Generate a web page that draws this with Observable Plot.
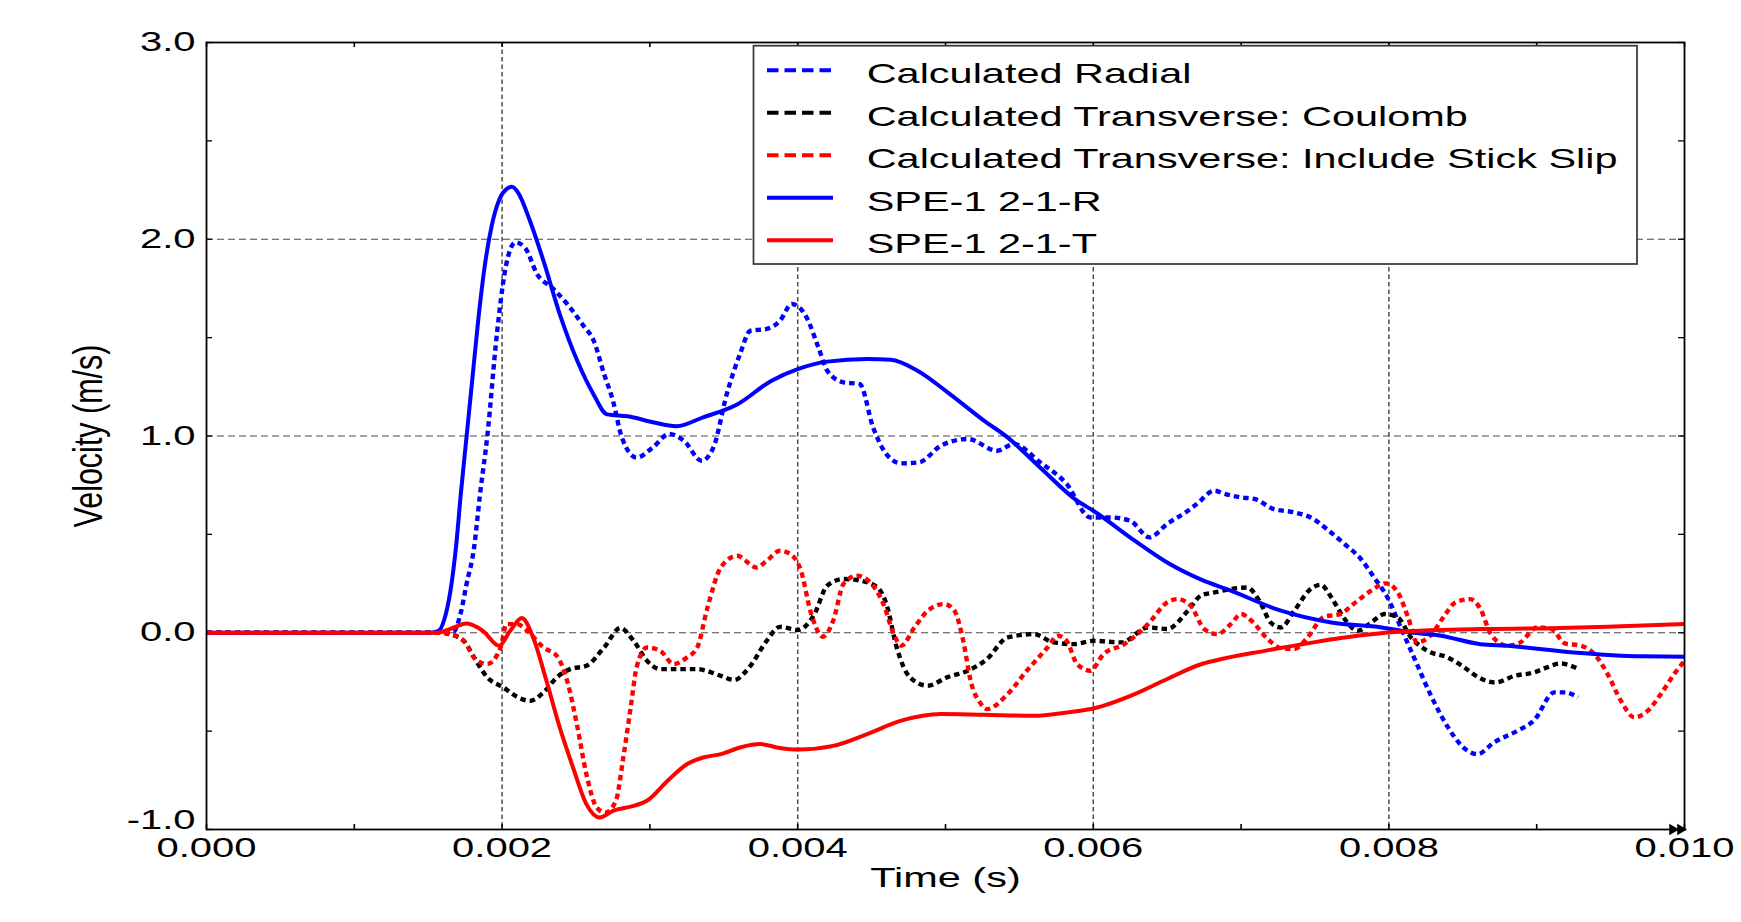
<!DOCTYPE html>
<html>
<head>
<meta charset="utf-8">
<script src="https://cdn.jsdelivr.net/npm/d3@7"></script>
<script src="https://cdn.jsdelivr.net/npm/@observablehq/plot@0.6"></script>
<style>
  html, body { margin: 0; padding: 0; background: #fff; }
  #chart { width: 1741px; height: 922px; }
</style>
</head>
<body>
<div id="chart"></div>
<script>
// ---- DATA (time in milliseconds, velocity in m/s) ----
const seriesNames = [
  "Calculated Radial",
  "Calculated Transverse: Coulomb",
  "Calculated Transverse: Include Stick Slip",
  "SPE-1 2-1-R",
  "SPE-1 2-1-T"
];

const calcRadial = [
  [0,0],[1.6,0],[1.67,0.005],[1.72,0.1],[1.76,0.25],[1.81,0.43],[1.85,0.7],[1.9,1.0],[1.965,1.52],[2.02,1.84],
  [2.09,1.984],[2.156,1.956],[2.236,1.824],[2.348,1.747],[2.44,1.671],[2.55,1.561],[2.62,1.484],[2.69,1.315],[2.75,1.179],[2.81,0.993],
  [2.91,0.89],[3.02,0.942],[3.13,1.01],[3.23,0.976],[3.35,0.874],[3.43,0.942],[3.52,1.213],[3.61,1.417],[3.68,1.535],[3.79,1.544],
  [3.88,1.586],[3.96,1.671],[4.06,1.603],[4.14,1.45],[4.2,1.332],[4.31,1.273],[4.42,1.264],[4.51,1.044],[4.6,0.908],[4.7,0.861],
  [4.82,0.866],[4.97,0.951],[5.15,0.985],[5.35,0.925],[5.46,0.959],[5.64,0.866],[5.82,0.756],[5.98,0.586],[6.12,0.586],[6.25,0.569],
  [6.38,0.485],[6.5,0.553],[6.64,0.62],[6.7,0.654],[6.82,0.722],[6.88,0.708],[7.0,0.688],[7.09,0.68],[7.22,0.629],[7.36,0.612],
  [7.49,0.578],[7.58,0.527],[7.7,0.451],[7.81,0.375],[7.9,0.281],[7.99,0.18],[8.08,0.027],[8.17,-0.126],[8.28,-0.312],[8.4,-0.481],
  [8.5,-0.58],[8.6,-0.617],[8.71,-0.558],[8.87,-0.498],[8.98,-0.447],[9.12,-0.303],[9.19,-0.303],[9.28,-0.329]
];

const calcCoulomb = [
  [0,0],[1.6,0],[1.63,-0.005],[1.74,-0.041],[1.81,-0.125],[1.9,-0.227],[2.01,-0.278],[2.1,-0.325],[2.19,-0.346],[2.28,-0.303],
  [2.37,-0.227],[2.46,-0.185],[2.57,-0.168],[2.69,-0.075],[2.8,0.024],[2.89,-0.041],[2.98,-0.142],[3.07,-0.185],[3.21,-0.185],[3.32,-0.185],
  [3.48,-0.219],[3.57,-0.24],[3.68,-0.168],[3.79,-0.041],[3.88,0.03],[4.0,0.014],[4.11,0.09],[4.2,0.239],[4.31,0.273],[4.43,0.264],
  [4.54,0.23],[4.6,0.146],[4.67,-0.075],[4.76,-0.227],[4.88,-0.269],[5.01,-0.227],[5.15,-0.193],[5.28,-0.134],[5.42,-0.024],[5.6,-0.007],
  [5.73,-0.049],[5.87,-0.058],[6.0,-0.041],[6.19,-0.049],[6.37,0.027],[6.5,0.019],[6.64,0.112],[6.73,0.19],[6.82,0.205],[6.93,0.222],
  [7.04,0.23],[7.13,0.154],[7.2,0.052],[7.27,0.027],[7.36,0.112],[7.47,0.222],[7.54,0.244],[7.61,0.18],[7.7,0.07],[7.79,0.01],
  [7.88,0.052],[7.97,0.095],[8.06,0.078],[8.15,-0.024],[8.26,-0.092],[8.4,-0.126],[8.51,-0.176],[8.6,-0.224],[8.72,-0.253],[8.85,-0.219],
  [8.98,-0.202],[9.07,-0.176],[9.16,-0.156],[9.27,-0.18]
];

const calcStickSlip = [
  [0,0],[1.6,0],[1.65,-0.005],[1.74,-0.041],[1.83,-0.142],[1.9,-0.159],[1.99,-0.075],[2.03,0.044],[2.1,0.044],[2.17,0.01],
  [2.28,-0.075],[2.37,-0.117],[2.44,-0.244],[2.51,-0.481],[2.57,-0.718],[2.64,-0.888],[2.7,-0.914],[2.77,-0.854],[2.82,-0.634],[2.87,-0.38],
  [2.91,-0.176],[2.98,-0.075],[3.07,-0.092],[3.16,-0.159],[3.25,-0.126],[3.32,-0.075],[3.39,0.129],[3.48,0.332],[3.59,0.391],[3.72,0.332],
  [3.79,0.366],[3.88,0.417],[3.95,0.4],[4.02,0.32],[4.09,0.1],[4.17,-0.02],[4.24,0.061],[4.31,0.248],[4.4,0.29],[4.49,0.256],
  [4.58,0.146],[4.65,-0.007],[4.7,-0.066],[4.79,0.027],[4.88,0.112],[4.99,0.146],[5.06,0.112],[5.12,-0.041],[5.17,-0.244],[5.24,-0.362],
  [5.28,-0.388],[5.42,-0.312],[5.55,-0.193],[5.69,-0.075],[5.76,-0.015],[5.82,-0.041],[5.89,-0.159],[5.98,-0.193],[6.07,-0.108],[6.21,-0.058],
  [6.37,0.044],[6.5,0.154],[6.57,0.171],[6.66,0.137],[6.75,0.019],[6.84,-0.007],[6.93,0.044],[7.0,0.095],[7.07,0.061],[7.18,-0.032],
  [7.27,-0.078],[7.36,-0.083],[7.45,-0.024],[7.56,0.081],[7.67,0.095],[7.76,0.146],[7.88,0.214],[7.98,0.251],[8.06,0.205],[8.13,0.078],
  [8.19,-0.049],[8.28,-0.015],[8.37,0.08],[8.45,0.154],[8.55,0.171],[8.62,0.12],[8.69,-0.007],[8.8,-0.066],[8.89,-0.049],[9.0,0.027],
  [9.1,0.019],[9.19,-0.054],[9.3,-0.066],[9.39,-0.108],[9.48,-0.21],[9.57,-0.346],[9.66,-0.43],[9.75,-0.397],[9.84,-0.312],[9.93,-0.21],
  [10.0,-0.142]
];

const spe1R = [
  [0,0],[1.5,0],[1.57,0.01],[1.61,0.07],[1.65,0.21],[1.69,0.45],[1.72,0.7],[1.76,1.0],[1.8,1.3],[1.84,1.6],
  [1.88,1.85],[1.93,2.07],[1.98,2.2],[2.03,2.255],[2.066,2.267],[2.11,2.235],[2.19,2.09],[2.28,1.89],[2.39,1.62],[2.51,1.38],
  [2.62,1.21],[2.71,1.11],[2.85,1.1],[3.02,1.07],[3.18,1.05],[3.36,1.095],[3.59,1.16],[3.82,1.28],[4.0,1.34],[4.2,1.378],
  [4.47,1.391],[4.63,1.387],[4.81,1.332],[5.03,1.213],[5.26,1.078],[5.42,0.993],[5.64,0.84],[5.89,0.671],[6.0,0.62],[6.28,0.468],
  [6.5,0.357],[6.73,0.27],[6.93,0.214],[7.27,0.112],[7.61,0.052],[7.95,0.027],[8.17,0.0],[8.35,-0.015],[8.62,-0.058],[8.8,-0.066],
  [9.25,-0.1],[9.71,-0.12],[10.0,-0.122]
];

const spe1T = [
  [0,0],[1.56,0],[1.65,0.02],[1.76,0.047],[1.87,0.01],[1.98,-0.066],[2.055,0.01],[2.134,0.075],[2.21,-0.024],[2.3,-0.244],
  [2.39,-0.481],[2.48,-0.685],[2.57,-0.871],[2.66,-0.939],[2.75,-0.905],[2.89,-0.88],[2.98,-0.854],[3.12,-0.752],[3.25,-0.668],[3.36,-0.634],
  [3.48,-0.617],[3.61,-0.583],[3.75,-0.566],[3.88,-0.586],[4.0,-0.594],[4.24,-0.575],[4.47,-0.515],[4.7,-0.447],[4.97,-0.413],[5.26,-0.417],
  [5.6,-0.422],[5.82,-0.405],[6.0,-0.385],[6.28,-0.312],[6.5,-0.235],[6.73,-0.16],[6.82,-0.142],[7.16,-0.092],[7.49,-0.049],[7.83,-0.012],
  [8.06,0.005],[8.62,0.019],[9.03,0.022],[9.48,0.03],[10.0,0.044]
];

const seriesData = [calcRadial, calcCoulomb, calcStickSlip, spe1R, spe1T];
const seriesColors = ["#0000ff", "#000000", "#ff0000", "#0000ff", "#ff0000"];
const seriesDotted = [true, true, true, false, false];

const xDomain = [0, 0.010];
const yDomain = [-1, 3];
const xTickLabels = [0, 0.002, 0.004, 0.006, 0.008, 0.010];
const xMinorTicks = [0, 0.001, 0.002, 0.003, 0.004, 0.005, 0.006, 0.007, 0.008, 0.009, 0.010];
const yTickLabels = [-1, 0, 1, 2, 3];
const yMinorTicks = [-1, -0.5, 0, 0.5, 1, 1.5, 2, 2.5, 3];
const xGridValues = [0.002, 0.004, 0.006, 0.008];
const yGridValues = [0, 1, 2];
const xLabel = "Time (s)";
const yLabel = "Velocity (m/s)";

// ---- LAYOUT ----
const W = 1741, H = 922;
const mL = 206, mR = 57, mT = 42, mB = 93;
const innerW = W - mL - mR, innerH = H - mT - mB;
const FONT = "'Liberation Sans', Arial, Helvetica, sans-serif";
const SX = 1.48; // horizontal stretch of the original raster text

const lineMarks = seriesData.map((pts, i) =>
  Plot.line(pts, {
    x: d => d[0] / 1000,
    y: d => d[1],
    stroke: seriesColors[i],
    strokeWidth: seriesDotted[i] ? 4.4 : 4,
    strokeDasharray: seriesDotted[i] ? "5.5,4" : null,
    strokeLinecap: "butt",
    curve: "monotone-x"
  })
);

const arrowData = [{x: xDomain[1], y: yDomain[0]}];

const svg = Plot.plot({
  width: W,
  height: H,
  marginLeft: mL,
  marginRight: mR,
  marginTop: mT,
  marginBottom: mB,
  style: {fontFamily: FONT, fontSize: "27px", color: "#000", background: "#fff", overflow: "visible"},
  x: {domain: xDomain},
  y: {domain: yDomain},
  marks: [
    Plot.gridX(xGridValues, {stroke: "#4a4a4a", strokeOpacity: 1, strokeWidth: 1.5, strokeDasharray: "4.5,3"}),
    Plot.gridY(yGridValues, {stroke: "#4a4a4a", strokeOpacity: 1, strokeWidth: 1.2, strokeDasharray: "7,4"}),
    Plot.tickX(xMinorTicks, {x: d => d, insetTop: innerH - 5, stroke: "#000", strokeWidth: 1.6}),
    Plot.tickX(xMinorTicks, {x: d => d, insetBottom: innerH - 5, stroke: "#000", strokeWidth: 1.6}),
    Plot.tickY(yMinorTicks, {y: d => d, insetRight: innerW - 6, stroke: "#000", strokeWidth: 1.3}),
    Plot.tickY(yMinorTicks, {y: d => d, insetLeft: innerW - 6, stroke: "#000", strokeWidth: 1.3}),
    ...lineMarks,
    Plot.frame({stroke: "#000", strokeWidth: 1.8}),
    Plot.axisX(xTickLabels, {tickSize: 0, tickPadding: 8, tickFormat: d => d.toFixed(3), fontSize: 27, label: null}),
    Plot.axisY(yTickLabels, {tickSize: 0, tickPadding: 11, tickFormat: d => d.toFixed(1), fontSize: 27, label: null}),
    Plot.text([xLabel], {frameAnchor: "bottom", dy: 38, lineAnchor: "top", textAnchor: "middle", fontSize: 28, text: d => d}),
    Plot.text([yLabel], {frameAnchor: "left", rotate: -90, dx: -118, textAnchor: "middle", fontSize: 30.5, text: d => d}),
    Plot.dot(arrowData, {x: "x", y: "y", symbol: "triangle", r: 4.2, rotate: 90, fill: "#000", stroke: "none", dx: -4}),
    Plot.dot(arrowData, {x: "x", y: "y", symbol: "triangle", r: 4.2, rotate: 90, fill: "#000", stroke: "none", dx: -12})
  ]
});

document.getElementById("chart").append(svg);

// Stretch text horizontally to match the wide lettering of the original.
d3.select(svg).selectAll("text").each(function () {
  const t = this.getAttribute("transform") || "";
  const s = this.textContent;
  if (s === yLabel) {
    this.setAttribute("transform", t + " scale(1,1.35)");
  } else if (s === "-1.0") {
    // the lowest y label sits just above the axis corner in the original
    this.setAttribute("transform", "translate(0,-9) " + t + ` scale(${SX},1)`);
  } else {
    this.setAttribute("transform", t + ` scale(${SX},1)`);
  }
});

// ---- LEGEND (inside plot area, top right) ----
const lg = d3.select(svg).append("g").attr("class", "legend");
lg.append("rect")
  .attr("x", 753.5).attr("y", 45.7)
  .attr("width", 883.5).attr("height", 218.3)
  .attr("fill", "#fff").attr("stroke", "#333").attr("stroke-width", 1.7);
seriesNames.forEach((name, i) => {
  const by = 83.3 + i * 42.5;
  lg.append("line")
    .attr("x1", 767).attr("x2", 833)
    .attr("y1", by - 13).attr("y2", by - 13)
    .attr("stroke", seriesColors[i])
    .attr("stroke-width", 4)
    .attr("stroke-dasharray", seriesDotted[i] ? "11.5,6" : null);
  lg.append("text")
    .attr("transform", `translate(866.7,${by}) scale(${SX},1)`)
    .attr("text-anchor", "start")
    .attr("font-family", FONT)
    .attr("font-size", 28)
    .attr("fill", "#000")
    .text(name);
});
</script>
</body>
</html>
